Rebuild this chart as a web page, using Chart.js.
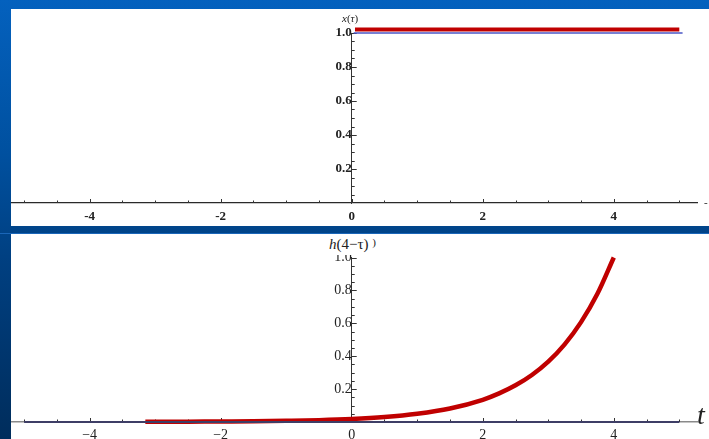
<!DOCTYPE html>
<html>
<head>
<meta charset="utf-8">
<script src="https://cdn.jsdelivr.net/npm/chart.js@4"></script>
<style>
  html, body { margin: 0; padding: 0; }
  body {
    width: 709px; height: 439px; overflow: hidden; position: relative;
    background: linear-gradient(to bottom, #0461be 0%, #00509f 35%, #003f80 60%, #002d5c 100%);
  }
  .panel { position: absolute; left: 11px; width: 698px; background: #fff; }
  .band { position: absolute; left: 0; width: 709px; height: 1px; top: 233px; background: #1a66b8; }
  .lbl { position: absolute; font-family: "Liberation Serif", "DejaVu Serif", serif; color: #222; white-space: nowrap; }
</style>
</head>
<body>
<div class="band"></div>
<div class="panel" style="top:9px;height:217px;"><canvas id="topChart" width="698" height="217"></canvas></div>
<div class="panel" style="top:234px;height:205px;"><canvas id="bottomChart" width="698" height="205"></canvas></div>
<div class="lbl" style="left:342px;top:12px;font-size:11px;"><i>x</i>(<i>τ</i>)</div>
<div class="lbl" style="left:326px;top:236px;height:19px;font-size:15px;background:#fff;padding:0 3px;line-height:17px;"><i>h</i>(4−τ) <span style="font-size:11px;position:relative;top:-3px;">)</span></div>
<div class="lbl" style="left:697px;top:399px;font-size:28px;font-style:italic;">t</div>
<div class="lbl" style="left:704px;top:196px;font-size:11px;">-</div>
<script>
// top plot: x(τ) step
const tauRedTop = [0.05, 5.0];
const xRedTop = [1.02, 1.02];
const tauBlueTop = [0.03, 5.05];
const xBlueTop = [1, 1];

// bottom plot: h(4 - τ)
const tauH = [-3.15, -3, -2.5, -2, -1.5, -1, -0.5, 0, 0.5, 1, 1.5, 2, 2.25, 2.5, 2.75, 3, 3.25, 3.5, 3.75, 4];
const hVals = [0.001, 0.001, 0.002, 0.003, 0.004, 0.007, 0.011, 0.018, 0.03, 0.05, 0.082, 0.135, 0.174, 0.223, 0.286, 0.367, 0.472, 0.607, 0.779, 1.0];
const tauZero = [-5, 5];
const zeroVals = [0, 0];

const xTickLabels = [-4, -2, 0, 2, 4];
const yTickLabels = [0.2, 0.4, 0.6, 0.8, 1.0];

function pts(xs, ys) { return xs.map((v, i) => ({ x: v, y: ys[i] })); }

// small inward tick marks like the original plot
const tickMarks = {
  id: 'tickMarks',
  beforeDatasetsDraw(chart, args, opts) {
    const { ctx, scales: { x, y } } = chart;
    const x0 = x.getPixelForValue(0);
    const y0 = y.getPixelForValue(0);
    ctx.save();
    ctx.strokeStyle = opts.color || '#333';
    ctx.lineWidth = 1;
    ctx.beginPath();
    for (let i = -10; i <= 10; i++) {
      const px = Math.round(x.getPixelForValue(i / 2)) + 0.5;
      const len = (i % 4 === 0) ? 4 : 2.5;
      ctx.moveTo(px, y0);
      ctx.lineTo(px, y0 - len);
    }
    for (let j = 1; j <= 20; j++) {
      const py = Math.round(y.getPixelForValue(j * 0.05)) + 0.5;
      const len = (j % 4 === 0) ? 5 : 3;
      ctx.moveTo(x0, py);
      ctx.lineTo(x0 + len, py);
    }
    ctx.stroke();
    ctx.restore();
  }
};

function makeChart(id, datasets, o) {
  const ctx = document.getElementById(id).getContext('2d');
  return new Chart(ctx, {
    type: 'line',
    data: { datasets: datasets },
    options: {
      responsive: false,
      animation: false,
      events: [],
      layout: { padding: { left: 0, right: 12, top: o.padTop, bottom: o.padBottom } },
      plugins: { legend: { display: false }, tooltip: { enabled: false }, tickMarks: { color: '#333' } },
      elements: { point: { radius: 0 } },
      scales: {
        x: {
          type: 'linear', min: -5.2, max: 5.27,
          position: { y: 0 },
          grid: { display: false, drawTicks: false },
          border: { display: true, color: o.xAxisColor, width: o.xAxisWidth },
          afterBuildTicks: s => { s.ticks = xTickLabels.map(v => ({ value: v })); },
          ticks: {
            padding: o.xPad,
            color: '#222',
            maxRotation: 0,
            autoSkip: false,
            font: o.font,
            callback: v => (v < 0 ? o.minus + Math.abs(v) : String(v))
          }
        },
        y: {
          type: 'linear', min: 0, max: 1,
          position: { x: 0 },
          grid: { display: false, drawTicks: false },
          border: { display: true, color: '#333', width: 1 },
          afterBuildTicks: s => { s.ticks = yTickLabels.map(v => ({ value: v })); },
          ticks: {
            padding: 6,
            color: '#222',
            font: o.font,
            callback: v => v.toFixed(1)
          }
        }
      }
    },
    plugins: [tickMarks]
  });
}

makeChart('topChart', [
  { data: pts(tauBlueTop, xBlueTop), borderColor: '#4a56c6', borderWidth: 1.5, clip: false },
  { data: pts(tauRedTop, xRedTop), borderColor: '#c00000', borderWidth: 4, clip: false }
], {
  padTop: 24, padBottom: 23, xAxisColor: '#2a2a2a', xAxisWidth: 1.2, xPad: 6, minus: '-',
  font: { family: "'Liberation Serif', serif", size: 13, weight: 'bold' }
});

makeChart('bottomChart', [
  { data: pts(tauZero, zeroVals), borderColor: '#3e3e66', borderWidth: 2, clip: false },
  { data: pts(tauH, hVals), borderColor: '#c00000', borderWidth: 4.5, cubicInterpolationMode: 'monotone', clip: false, borderCapStyle: 'butt' }
], {
  padTop: 23.5, padBottom: 17, xAxisColor: '#8a8a8a', xAxisWidth: 1.5, xPad: 5, minus: '−',
  font: { family: "'Liberation Serif', serif", size: 14 }
});
</script>
</body>
</html>
